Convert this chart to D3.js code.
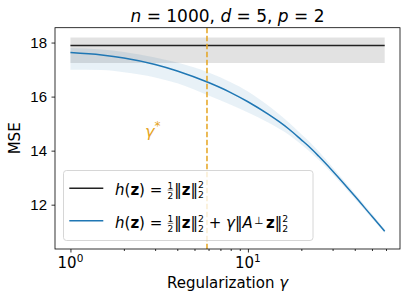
<!DOCTYPE html>
<html>
<head>
<meta charset="utf-8">
<script src="https://cdn.jsdelivr.net/npm/d3@7"></script>
<style>
  body { margin: 0; background: #fff; }
  svg { display: block; font-family: 'DejaVu Sans', sans-serif; }
  svg text { white-space: pre; }
</style>
</head>
<body>
<div id="chart"></div>
<script>
// regularization values (x) and MSE
const GAMMAS = [1, 1.5, 2, 3, 4, 6, 8, 10, 13, 15, 17, 20, 22, 25, 30, 40, 50, 59];
const MSE_MEAN = [17.63, 17.54, 17.43, 17.19, 16.95, 16.52, 16.15, 15.81, 15.35, 15.07, 14.80, 14.40, 14.16, 13.80, 13.25, 12.32, 11.57, 11.02];
const MSE_LOW = [16.99, 16.98, 16.90, 16.71, 16.49, 16.04, 15.70, 15.41, 15.04, 14.81, 14.59, 14.23, 14.00, 13.66, 13.13, 12.22, 11.49, 10.95];
const MSE_HIGH = [17.80, 17.74, 17.65, 17.45, 17.26, 16.89, 16.53, 16.19, 15.67, 15.35, 15.04, 14.61, 14.36, 13.98, 13.39, 12.42, 11.66, 11.09];
// baseline h(z) = 1/2 ||z||^2 : constant level and its band
const BASE_MSE = 17.89;
const BASE_LOW = 17.24;
const BASE_HIGH = 18.19;
const GAMMA_STAR = 5.88;
const Y_TICKS = [12, 14, 16, 18];
const X_MAJOR = [1, 10];
const X_MINOR = [2, 3, 4, 5, 6, 7, 8, 9, 20, 30, 40, 50, 60];

const width = 407;
const height = 300;
const margin = {
  top: 27.7, right: 7, bottom: 51, left: 55,
};
const plotW = width - margin.left - margin.right;
const plotH = height - margin.top - margin.bottom;
const BLUE = '#1f77b4';
const ORANGE = '#e5a41f';

const svg = d3.select('#chart')
  .append('svg')
  .attr('width', width)
  .attr('height', height);

const x = d3.scaleLog()
  .domain([Math.pow(10, -0.087), Math.pow(10, 1.857)])
  .range([margin.left, margin.left + plotW]);

const y = d3.scaleLinear()
  .domain([10.36, 18.55])
  .range([margin.top + plotH, margin.top]);

const data = GAMMAS.map((g, i) => ({
  g, m: MSE_MEAN[i], lo: MSE_LOW[i], hi: MSE_HIGH[i],
}));

svg.append('clipPath')
  .attr('id', 'clip')
  .append('rect')
  .attr('x', margin.left)
  .attr('y', margin.top)
  .attr('width', plotW)
  .attr('height', plotH);

const plot = svg.append('g').attr('clip-path', 'url(#clip)');

// blue band
plot.append('path')
  .datum(data)
  .attr('fill', BLUE)
  .attr('fill-opacity', 0.1)
  .attr('d', d3.area()
    .curve(d3.curveMonotoneX)
    .x((d) => x(d.g))
    .y0((d) => y(d.lo))
    .y1((d) => y(d.hi)));

// gray band for the baseline
const gEnds = [GAMMAS[0], GAMMAS[GAMMAS.length - 1]];
plot.append('path')
  .datum(gEnds)
  .attr('fill', '#000')
  .attr('fill-opacity', 0.115)
  .attr('d', d3.area()
    .x((d) => x(d))
    .y0(y(BASE_LOW))
    .y1(y(BASE_HIGH)));

plot.append('path')
  .datum(gEnds)
  .attr('fill', 'none')
  .attr('stroke', '#222')
  .attr('stroke-width', 1.5)
  .attr('d', d3.line()
    .x((d) => x(d))
    .y(y(BASE_MSE)));

plot.append('path')
  .datum(data)
  .attr('fill', 'none')
  .attr('stroke', BLUE)
  .attr('stroke-width', 1.5)
  .attr('d', d3.line()
    .curve(d3.curveMonotoneX)
    .x((d) => x(d.g))
    .y((d) => y(d.m)));

// gamma* marker
plot.append('line')
  .attr('x1', x(GAMMA_STAR))
  .attr('x2', x(GAMMA_STAR))
  .attr('y1', margin.top)
  .attr('y2', margin.top + plotH)
  .attr('stroke', ORANGE)
  .attr('stroke-width', 1.5)
  .attr('stroke-dasharray', '5.5,2.5');

const gs = svg.append('text')
  .attr('x', 145)
  .attr('y', 137)
  .attr('fill', ORANGE)
  .style('font-size', '16px');
gs.append('tspan').style('font-style', 'italic').text('γ');
gs.append('tspan').attr('dy', -7).style('font-size', '12px').text('*');

// axes
const xAxis = svg.append('g')
  .attr('transform', `translate(0,${margin.top + plotH})`)
  .call(d3.axisBottom(x).tickValues(X_MAJOR).tickSize(3.5).tickFormat(''));
xAxis.select('.domain').remove();
svg.append('g')
  .attr('transform', `translate(0,${margin.top + plotH})`)
  .call(d3.axisBottom(x).tickValues(X_MINOR).tickSize(2).tickFormat(''))
  .select('.domain').remove();

X_MAJOR.forEach((v, i) => {
  const t = svg.append('text')
    .attr('x', x(v))
    .attr('y', 268)
    .attr('text-anchor', 'middle')
    .style('font-size', '15px');
  t.append('tspan').text('10');
  t.append('tspan').attr('dy', -6.5).style('font-size', '10.5px').text(String(i));
});

const yAxis = svg.append('g')
  .attr('transform', `translate(${margin.left},0)`)
  .call(d3.axisLeft(y).tickValues(Y_TICKS).tickSize(3.5).tickPadding(4.5));
yAxis.select('.domain').remove();
yAxis.selectAll('text').style('font-size', '15px').attr('fill', '#000');
svg.selectAll('.tick line').attr('stroke', '#000').attr('stroke-width', 0.8);

svg.append('rect')
  .attr('x', margin.left)
  .attr('y', margin.top)
  .attr('width', plotW)
  .attr('height', plotH)
  .attr('fill', 'none')
  .attr('stroke', '#000')
  .attr('stroke-width', 0.8);

svg.append('text')
  .attr('x', (margin.left * 2 + plotW) / 2)
  .attr('y', 288)
  .attr('text-anchor', 'middle')
  .style('font-size', '15px')
  .text('Regularization ')
  .append('tspan')
  .style('font-style', 'italic')
  .text('γ');

svg.append('text')
  .attr('transform', `translate(19.5,${margin.top + plotH / 2}) rotate(-90)`)
  .attr('text-anchor', 'middle')
  .style('font-size', '15px')
  .text('MSE');

// small helper to lay out mathtext-like pieces left to right
const mathText = (g, x0, y0, parts, size) => {
  let cx = x0;
  parts.forEach((p) => {
    if (p.frac) {
      const fs = size * 0.6;
      const a = g.append('text').attr('x', cx + 0.5).attr('y', y0 - size * 0.42)
        .style('font-size', `${fs}px`).text('1');
      const w = a.node().getComputedTextLength() + 1;
      g.append('text').attr('x', cx + 0.5).attr('y', y0 + size * 0.27)
        .style('font-size', `${fs}px`).text('2');
      g.append('line').attr('x1', cx + 0.5).attr('x2', cx + w - 0.5)
        .attr('y1', y0 - size * 0.33).attr('y2', y0 - size * 0.33)
        .attr('stroke', '#000').attr('stroke-width', 0.5);
      cx += w + 0.5;
    } else if (p.supsub) {
      const fs = size * 0.62;
      const a = g.append('text').attr('x', cx).attr('y', y0 - size * 0.45)
        .style('font-size', `${fs}px`).text('2');
      g.append('text').attr('x', cx).attr('y', y0 + size * 0.22)
        .style('font-size', `${fs}px`).text('2');
      cx += a.node().getComputedTextLength();
    } else {
      const t = g.append('text')
        .attr('x', cx)
        .attr('y', y0 + (p.dy || 0))
        .style('font-size', `${size * (p.scale || 1)}px`)
        .style('font-style', p.it ? 'italic' : 'normal')
        .style('font-weight', p.b ? 'bold' : 'normal')
        .text(p.t);
      cx += t.node().getComputedTextLength() + (p.gap || 0);
    }
  });
  return cx - x0;
};

// title
const titleG = svg.append('g');
const titleW = mathText(titleG, 0, 21.5, [
  { t: 'n', it: true }, { t: ' = 1000, ' }, { t: 'd', it: true }, { t: ' = 5, ' },
  { t: 'p', it: true }, { t: ' = 2' },
], 17);
titleG.attr('transform', `translate(${(margin.left * 2 + plotW) / 2 - titleW / 2},0)`);

// legend
const legend = svg.append('g');
legend.append('rect')
  .attr('x', 63.5)
  .attr('y', 170.5)
  .attr('width', 249.5)
  .attr('height', 70)
  .attr('rx', 3)
  .attr('fill', '#fff')
  .attr('fill-opacity', 0.8)
  .attr('stroke', '#ccc')
  .attr('stroke-width', 0.8);

const hz = [
  { t: 'h', it: true }, { t: '(' }, { t: 'z', b: true }, { t: ')' }, { t: ' = ' },
  { frac: true }, { t: '‖' }, { t: 'z', b: true }, { t: '‖' }, { supsub: true },
];
[{ color: '#222', ly: 188.3, ty: 195, parts: hz },
  {
    color: BLUE,
    ly: 220.7,
    ty: 228.3,
    parts: hz.concat([{ t: ' + ' }, { t: 'γ', it: true }, { t: '‖' }, { t: 'A', it: true, gap: 1.5 },
      { t: '⊥', scale: 0.7, dy: -4, gap: 2.5 }, { t: 'z', b: true }, { t: '‖' }, { supsub: true }]),
  }].forEach((e) => {
  legend.append('line')
    .attr('x1', 69.3)
    .attr('x2', 103.3)
    .attr('y1', e.ly)
    .attr('y2', e.ly)
    .attr('stroke', e.color)
    .attr('stroke-width', 1.5);
  mathText(legend, 115, e.ty, e.parts, 15);
});
</script>
</body>
</html>
